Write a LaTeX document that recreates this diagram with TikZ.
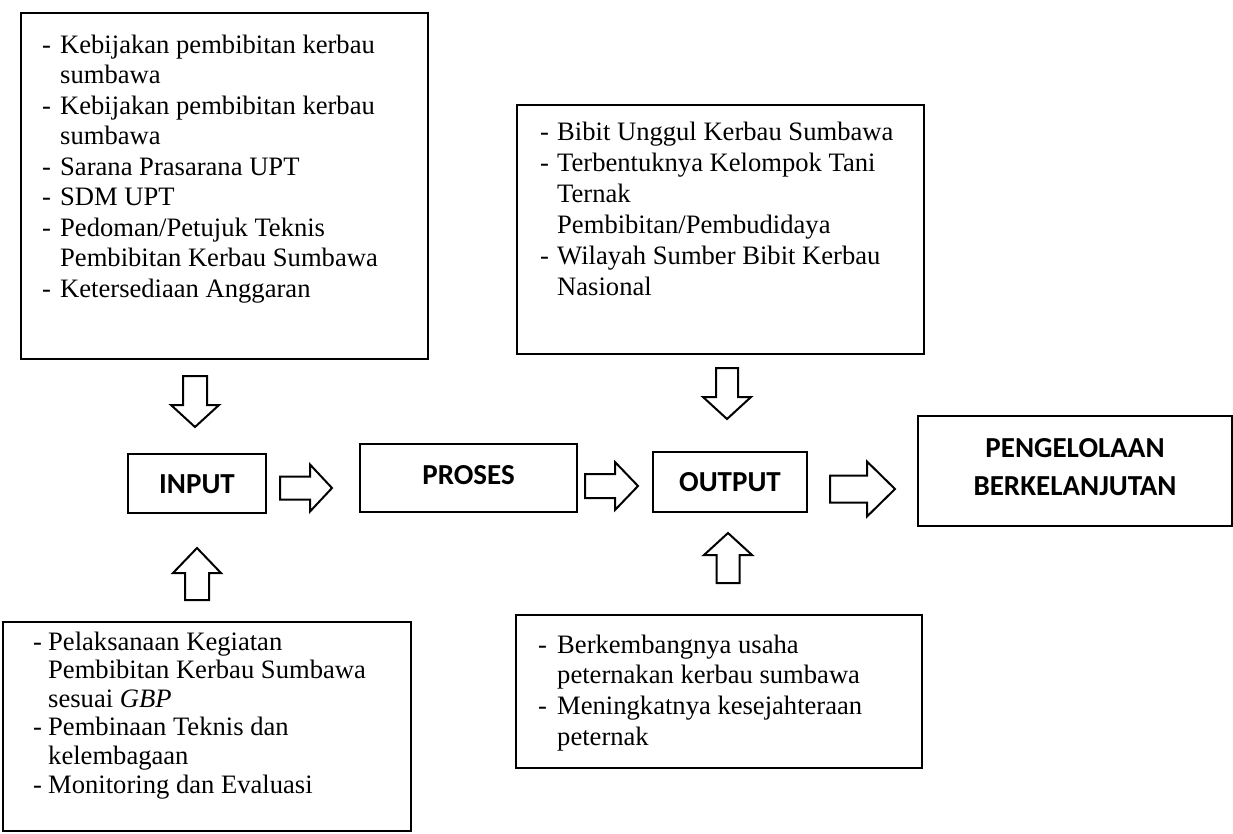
\documentclass[tikz,border=0pt]{standalone}
\usepackage{fontspec}
\setmainfont{Liberation Serif}
\newfontfamily\calib{Carlito}
\newlength\dind
\newcommand\dl[1]{\makebox[\dind][l]{-}#1}
\newcommand\cl[1]{\hspace*{\dind}#1}
\newcommand\vblockarrow[6]{\draw[blk] ({#1-#5},#2) -- ({#1+#5},#2) -- ({#1+#5},#3) -- ({#1+#6},#3) -- (#1,#4) -- ({#1-#6},#3) -- ({#1-#5},#3) -- cycle;}
\newcommand\hblockarrow[6]{\draw[blk] (#2,{#1-#5}) -- (#3,{#1-#5}) -- (#3,{#1-#6}) -- (#4,#1) -- (#3,{#1+#6}) -- (#3,{#1+#5}) -- (#2,{#1+#5}) -- cycle;}
\begin{document}
\begin{tikzpicture}[x=1pt,y=-1pt,
  box/.style={draw, line width=2pt, inner sep=0pt},
  blk/.style={draw, line width=2pt, line join=miter},
  head/.style={font=\calib\bfseries\fontsize{29}{38}\selectfont, inner sep=0pt, anchor=base},
  body/.style={inner sep=0pt, anchor=base west}]
\useasboundingbox[fill=white] (0,0) rectangle (1233,833);

% boxes
\node[box, minimum width=407pt, minimum height=346pt] (tl) at (224.5,186) {};
\node[box, minimum width=407pt, minimum height=249pt] (tr) at (720.5,229.5) {};
\node[box, minimum width=138pt, minimum height=59pt] (input) at (197,483.5) {};
\node[box, minimum width=217pt, minimum height=68pt] (proses) at (468.5,478) {};
\node[box, minimum width=154pt, minimum height=60pt] (output) at (730,482) {};
\node[box, minimum width=314pt, minimum height=110pt] (peng) at (1075,471) {};
\node[box, minimum width=408pt, minimum height=209pt] (bl) at (207,726.5) {};
\node[box, minimum width=406pt, minimum height=153pt] (br) at (719,691.5) {};

% bold labels
\node[head] (tinput) at (197,493) {INPUT};
\node[head] (tproses) at (468.5,484) {PROSES};
\node[head] (toutput) at (730,491) {OUTPUT};
\node[head] (tpeng) at (1075,457) {\parbox[t]{300pt}{\centering PENGELOLAAN\\BERKELANJUTAN}};

% body texts
\node[body] (ttl) at (42,53) {\parbox[t]{385pt}{\fontsize{26.6}{30.5}\selectfont\setlength\dind{18pt}%
\dl{Kebijakan pembibitan kerbau}\\
\cl{sumbawa}\\
\dl{Kebijakan pembibitan kerbau}\\
\cl{sumbawa}\\
\dl{Sarana Prasarana UPT}\\
\dl{SDM UPT}\\
\dl{Pedoman/Petujuk Teknis}\\
\cl{Pembibitan Kerbau Sumbawa}\\
\dl{Ketersediaan Anggaran}}};

\node[body] (ttr) at (540,140) {\parbox[t]{380pt}{\fontsize{26.6}{31}\selectfont\setlength\dind{17pt}%
\dl{Bibit Unggul Kerbau Sumbawa}\\
\dl{Terbentuknya Kelompok Tani}\\
\cl{Ternak}\\
\cl{Pembibitan/Pembudidaya}\\
\dl{Wilayah Sumber Bibit Kerbau}\\
\cl{Nasional}}};

\node[body] (tbl) at (33,650) {\parbox[t]{375pt}{\fontsize{26.6}{28.6}\selectfont\setlength\dind{15pt}%
\dl{Pelaksanaan Kegiatan}\\
\cl{Pembibitan Kerbau Sumbawa}\\
\cl{sesuai \textit{GBP}}\\
\dl{Pembinaan Teknis dan}\\
\cl{kelembagaan}\\
\dl{Monitoring dan Evaluasi}}};

\node[body] (tbr) at (538,653) {\parbox[t]{380pt}{\fontsize{26.6}{30.7}\selectfont\setlength\dind{19pt}%
\dl{Berkembangnya usaha}\\
\cl{peternakan kerbau sumbawa}\\
\dl{Meningkatnya kesejahteraan}\\
\cl{peternak}}};

% block arrows
\vblockarrow{195}{376}{405}{427}{12}{24}
\vblockarrow{727}{368}{397}{419}{11}{24}
\vblockarrow{197}{600}{573}{548}{12}{24}
\vblockarrow{728}{583}{555}{533}{11.5}{24}
\hblockarrow{488}{280}{310}{332}{11.5}{23.5}
\hblockarrow{486}{585}{615}{638}{12}{24}
\hblockarrow{489}{830}{867}{895}{13.5}{27.5}
\end{tikzpicture}
\end{document}
